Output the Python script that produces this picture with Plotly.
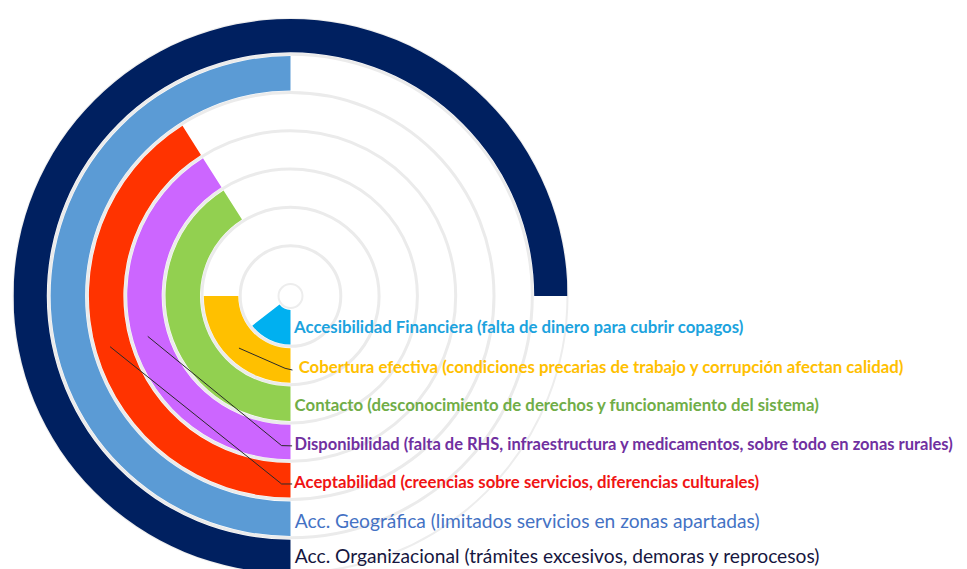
import plotly.graph_objects as go

# ---------------- data ----------------
categories = [
    "Accesibilidad Financiera",
    "Cobertura efectiva",
    "Contacto",
    "Disponibilidad",
    "Aceptabilidad",
    "Acc. Geográfica",
    "Acc. Organizacional",
]
descriptions = [
    "(falta de dinero para cubrir copagos)",
    "(condiciones precarias de trabajo y corrupción afectan calidad)",
    "(desconocimiento de derechos y funcionamiento del sistema)",
    "(falta de RHS, infraestructura y medicamentos, sobre todo en zonas rurales)",
    "(creencias sobre servicios, diferencias culturales)",
    "(limitados servicios en zonas apartadas)",
    "(trámites excesivos, demoras y reprocesos)",
]
# share of the full circle covered by each ring (%)
values_pct = [14.5, 25, 41, 41, 41, 50, 75]

bar_colors = ["#00B0F0", "#FFC000", "#92D050", "#CC66FF", "#FF3300", "#5B9BD5", "#002060"]
label_colors = ["#1CA3DE", "#FFC000", "#70AD47", "#7030A0", "#F01414", "#4472C4", "#161640"]
label_weights = ["bold", "bold", "bold", "bold", "bold", "normal", "normal"]
label_sizes = [16.8, 16.8, 16.8, 16.5, 16.8, 19.2, 19.2]
label_indent = ["\u00a0", "\u00a0\u00a0", "\u00a0", "\u00a0", "\u00a0", "\u00a0", "\u00a0"]

# leader lines (r, theta) pairs: from inside ring to its label
leader_r = {
    "Cobertura efectiva": [1.60, 1.58, 1.62],
    "Disponibilidad": [3.56, 3.60, 3.60],
    "Aceptabilidad": [4.58, 4.60, 4.595],
}
leader_theta = {
    "Cobertura efectiva": [44.7, 4.3, -1.5],
    "Disponibilidad": [74.2, 3.4, -0.6],
    "Aceptabilidad": [74.3, 2.7, -0.5],
}

# ---------------- layout constants ----------------
ring_pad = 0.05
label_r = [0.55, 1.60, 2.58, 3.60, 4.59, 5.62, 6.52]
radius_px = 277
hole_px = 12
unit_px = 38.3
rmax = (radius_px - hole_px) / unit_px
cx = 282.5

n = len(categories)
spans = [v * 3.6 for v in values_pct]

fig = go.Figure()

fig.add_trace(go.Barpolar(
    r=[1 - 2 * ring_pad] * n,
    base=[i + ring_pad for i in range(n)],
    theta=[s / 2 for s in spans],
    width=spans,
    marker=dict(color=bar_colors, line=dict(width=0)),
    hoverinfo="skip",
    showlegend=False,
))

for name in leader_r:
    fig.add_trace(go.Scatterpolar(
        r=leader_r[name], theta=leader_theta[name], mode="lines",
        line=dict(color="#2a2a2a", width=1),
        hoverinfo="skip", showlegend=False, cliponaxis=False,
    ))

fig.add_trace(go.Scatterpolar(
    r=label_r,
    theta=[0] * n,
    mode="text",
    text=[f"{p}{c} {d}" for p, c, d in zip(label_indent, categories, descriptions)],
    textposition="middle right",
    textfont=dict(family="Lato", color=label_colors, size=label_sizes, weight=label_weights),
    hoverinfo="skip", showlegend=False, cliponaxis=False,
))

fig.update_layout(
    width=967, height=569,
    margin=dict(l=0, r=0, t=7, b=0),
    paper_bgcolor="white",
    showlegend=False,
    polar=dict(
        domain=dict(x=[(cx - radius_px) / 967, (cx + radius_px) / 967], y=[0, 1]),
        bgcolor="white",
        hole=hole_px / radius_px,
        bargap=0,
        radialaxis=dict(range=[0, rmax], tickvals=list(range(0, 8)), showticklabels=False,
                        ticks="", showline=False, gridcolor="#EBEBEB", gridwidth=2.5),
        angularaxis=dict(rotation=270, direction="clockwise", showgrid=False,
                         showticklabels=False, ticks="", showline=True,
                         linecolor="#EDEDED", linewidth=2, layer="below traces"),
    ),
)

fig.write_html("out.html")
